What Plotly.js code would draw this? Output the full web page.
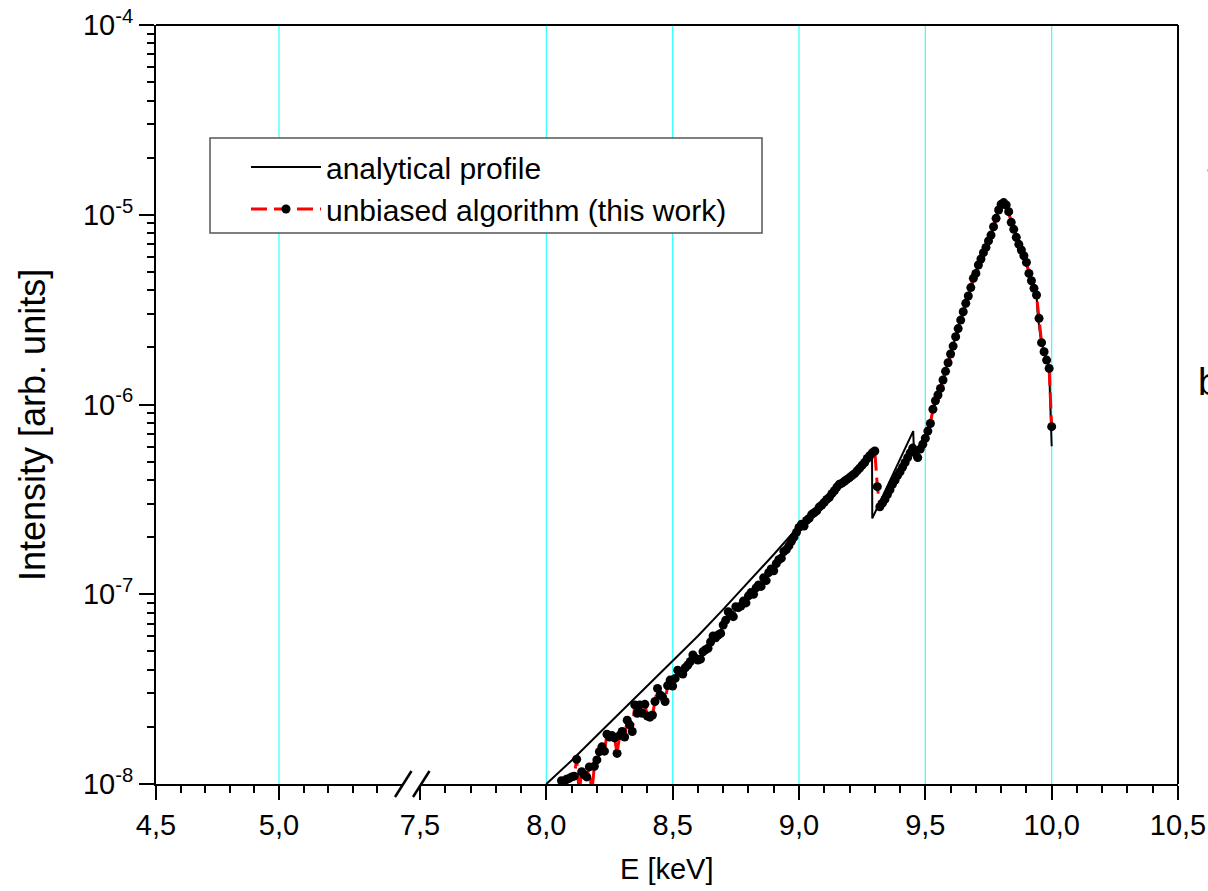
<!DOCTYPE html>
<html>
<head>
<meta charset="utf-8">
<script src="https://cdn.plot.ly/plotly-3.0.1.min.js"></script>
<style>
html,body{margin:0;padding:0;background:#ffffff;}
#chart{width:1208px;height:891px;}
</style>
</head>
<body>
<div id="chart"></div>
<script>
// ---------- data ----------
const analyticalE = [8.00, 8.10, 8.20, 8.30, 8.40, 8.50, 8.60, 8.70, 8.80, 8.90, 9.00, 9.10, 9.20, 9.289,
  9.290, 9.452, 9.456, 9.48, 9.50, 9.55, 9.60, 9.65, 9.70, 9.75, 9.78, 9.80, 9.81, 9.82, 9.85, 9.90,
  9.94, 9.945, 9.955, 9.97, 9.99, 10.00];
const analyticalI = [1.00e-8, 1.33e-8, 1.80e-8, 2.43e-8, 3.27e-8, 4.42e-8, 6.03e-8, 8.32e-8, 1.16e-7, 1.62e-7, 2.29e-7, 3.09e-7, 4.17e-7, 5.69e-7,
  2.51e-7, 7.24e-7, 5.20e-7, 5.89e-7, 6.76e-7, 1.12e-6, 1.86e-6, 3.09e-6, 4.90e-6, 7.24e-6, 9.55e-6, 1.135e-5, 1.16e-5, 1.12e-5, 8.32e-6, 5.62e-6,
  3.78e-6, 2.95e-6, 2.30e-6, 1.90e-6, 1.55e-6, 6.03e-7];

const algorithmE = [
  8.06, 8.07, 8.08, 8.09, 8.10, 8.11, 8.12, 8.13, 8.14, 8.15, 8.16, 8.17, 8.18, 8.19,
  8.20, 8.21, 8.22, 8.23, 8.24, 8.25, 8.26, 8.27, 8.28, 8.29,
  8.30, 8.31, 8.32, 8.33, 8.34, 8.35, 8.36, 8.37, 8.38, 8.39,
  8.40, 8.41, 8.42, 8.43, 8.44, 8.45, 8.46, 8.47, 8.48, 8.49,
  8.50, 8.51, 8.52, 8.53, 8.54, 8.55, 8.56, 8.57, 8.58, 8.59,
  8.60, 8.61, 8.62, 8.63, 8.64, 8.65, 8.66, 8.67, 8.68, 8.69,
  8.70, 8.71, 8.72, 8.73, 8.74, 8.75, 8.76, 8.77, 8.78, 8.79,
  8.80, 8.81, 8.82, 8.83, 8.84, 8.85, 8.86, 8.87, 8.88, 8.89,
  8.90, 8.91, 8.92, 8.93, 8.94, 8.95, 8.96, 8.97, 8.98, 8.99,
  9.00, 9.01, 9.02, 9.03, 9.04, 9.05, 9.06, 9.07, 9.08, 9.09,
  9.10, 9.11, 9.12, 9.13, 9.14, 9.15, 9.16, 9.17, 9.18, 9.19,
  9.20, 9.21, 9.22, 9.23, 9.24, 9.25, 9.26, 9.27, 9.28, 9.29,
  9.30, 9.31, 9.32, 9.33, 9.34, 9.35, 9.36, 9.37, 9.38, 9.39,
  9.40, 9.41, 9.42, 9.43, 9.44, 9.45, 9.46, 9.47, 9.48, 9.49,
  9.50, 9.51, 9.52, 9.53, 9.54, 9.55, 9.56, 9.57, 9.58, 9.59,
  9.60, 9.61, 9.62, 9.63, 9.64, 9.65, 9.66, 9.67, 9.68, 9.69,
  9.70, 9.71, 9.72, 9.73, 9.74, 9.75, 9.76, 9.77, 9.78, 9.79,
  9.80, 9.81, 9.82, 9.83, 9.84, 9.85, 9.86, 9.87, 9.88, 9.89,
  9.90, 9.91, 9.92, 9.93, 9.94, 9.95, 9.96, 9.97, 9.98, 9.99,
  10.00];
const algorithmI = [
  1.04e-8, 1.02e-8, 1.06e-8, 1.07e-8, 1.09e-8, 1.10e-8, 1.35e-8, 0.90e-8, 1.16e-8, 1.12e-8, 1.09e-8, 1.23e-8, 0.90e-8, 1.24e-8,
  1.34e-8, 1.48e-8, 1.57e-8, 1.49e-8, 1.83e-8, 1.77e-8, 1.80e-8, 1.75e-8, 1.45e-8, 1.80e-8,
  1.89e-8, 1.77e-8, 2.17e-8, 2.05e-8, 1.89e-8, 2.61e-8, 2.36e-8, 2.61e-8, 2.36e-8, 2.63e-8,
  2.28e-8, 2.25e-8, 2.31e-8, 2.72e-8, 3.19e-8, 2.95e-8, 2.88e-8, 2.72e-8, 3.30e-8, 3.53e-8,
  3.28e-8, 3.60e-8, 3.98e-8, 3.90e-8, 3.80e-8, 4.10e-8, 4.24e-8, 4.42e-8, 4.79e-8, 4.60e-8,
  4.50e-8, 4.55e-8, 4.98e-8, 5.10e-8, 5.19e-8, 5.60e-8, 6.03e-8, 5.90e-8, 6.10e-8, 6.22e-8,
  6.89e-8, 7.30e-8, 8.09e-8, 7.80e-8, 7.62e-8, 8.59e-8, 8.50e-8, 8.67e-8, 9.20e-8, 9.00e-8,
  9.80e-8, 1.02e-7, 1.00e-7, 1.08e-7, 1.12e-7, 1.10e-7, 1.22e-7, 1.18e-7, 1.30e-7, 1.36e-7,
  1.33e-7, 1.45e-7, 1.52e-7, 1.55e-7, 1.68e-7, 1.72e-7, 1.80e-7, 1.90e-7, 2.00e-7, 2.12e-7,
  2.25e-7, 2.34e-7, 2.29e-7, 2.45e-7, 2.51e-7, 2.63e-7, 2.69e-7, 2.75e-7, 2.88e-7, 2.95e-7,
  3.05e-7, 3.16e-7, 3.24e-7, 3.39e-7, 3.51e-7, 3.67e-7, 3.80e-7, 3.85e-7, 3.94e-7, 4.03e-7,
  4.12e-7, 4.22e-7, 4.32e-7, 4.47e-7, 4.62e-7, 4.79e-7, 4.95e-7, 5.19e-7, 5.37e-7, 5.56e-7,
  5.69e-7, 3.69e-7, 2.89e-7, 3.02e-7, 3.16e-7, 3.35e-7, 3.55e-7, 3.80e-7, 3.98e-7, 4.22e-7,
  4.42e-7, 4.68e-7, 4.95e-7, 5.25e-7, 5.56e-7, 5.89e-7, 5.62e-7, 5.25e-7, 5.82e-7, 6.17e-7,
  6.64e-7, 7.24e-7, 7.94e-7, 9.44e-7, 1.047e-6, 1.122e-6, 1.216e-6, 1.346e-6, 1.496e-6, 1.660e-6,
  1.845e-6, 2.032e-6, 2.275e-6, 2.512e-6, 2.786e-6, 3.083e-6, 3.412e-6, 3.733e-6, 4.130e-6, 4.624e-6,
  4.909e-6, 5.433e-6, 5.848e-6, 6.310e-6, 6.730e-6, 7.278e-6, 7.816e-6, 8.650e-6, 9.572e-6, 1.059e-5,
  1.135e-5, 1.159e-5, 1.125e-5, 1.038e-5, 9.120e-6, 8.375e-6, 7.603e-6, 6.982e-6, 6.516e-6, 6.081e-6,
  5.610e-6, 4.909e-6, 4.487e-6, 4.093e-6, 3.776e-6, 2.844e-6, 2.118e-6, 1.897e-6, 1.714e-6, 1.549e-6,
  7.64e-7];

const seriesNames = ['analytical profile', 'unbiased algorithm (this work)'];

// axis ticks / labels
const xLeftTickVals = [4.5, 5.0];
const xLeftTickText = ['4,5', '5,0'];
const xLeftMinor = [4.6, 4.7, 4.8, 4.9, 5.1, 5.2, 5.3, 5.4];
const xRightTickVals = [7.5, 8.0, 8.5, 9.0, 9.5, 10.0, 10.5];
const xRightTickText = ['7,5', '8,0', '8,5', '9,0', '9,5', '10,0', '10,5'];
const xRightMinor = [7.6, 7.7, 7.8, 7.9, 8.1, 8.2, 8.3, 8.4, 8.6, 8.7, 8.8, 8.9,
  9.1, 9.2, 9.3, 9.4, 9.6, 9.7, 9.8, 9.9, 10.1, 10.2, 10.3, 10.4];
const yTickVals = [1e-8, 1e-7, 1e-6, 1e-5, 1e-4];
const yTickText = ['10<sup>-8</sup>', '10<sup>-7</sup>', '10<sup>-6</sup>', '10<sup>-5</sup>', '10<sup>-4</sup>'];
const yMinor = [];
[1e-8, 1e-7, 1e-6, 1e-5].forEach(function (d) { for (let k = 2; k <= 9; k++) yMinor.push(k * d); });
const gridLeft = [5.0];
const gridRight = [8.0, 8.5, 9.0, 9.5, 10.0];

const xTitle = 'E [keV]';
const yTitle = 'Intensity [arb. units]';

// ---------- figure ----------
const FONT = '"Liberation Sans", Arial, Helvetica, sans-serif';
const TICKFONT = {family: FONT, size: 29, color: '#000'};

const traces = [
  {
    x: analyticalE, y: analyticalI, xaxis: 'x2', yaxis: 'y',
    type: 'scatter', mode: 'lines', name: seriesNames[0],
    line: {color: '#000000', width: 2}
  },
  {
    x: algorithmE, y: algorithmI, xaxis: 'x2', yaxis: 'y',
    type: 'scatter', mode: 'lines+markers', name: seriesNames[1],
    line: {color: '#ff0000', width: 3, dash: '16px,7px'},
    marker: {color: '#000000', size: 9, line: {width: 0}}
  }
];

// plot-area pixel geometry -> paper helpers (used only for decorations)
const PL = 156, PR = 1178, PT = 25, PB = 784;
function px(xp) { return (xp - PL) / (PR - PL); }
function py(yp) { return (PB - yp) / (PB - PT); }

const shapes = [];
gridLeft.forEach(function (g) {
  shapes.push({type: 'line', xref: 'x', yref: 'paper', x0: g, x1: g, y0: 0, y1: 1,
    line: {color: '#33ffff', width: 1.2}, layer: 'below'});
});
gridRight.forEach(function (g) {
  shapes.push({type: 'line', xref: 'x2', yref: 'paper', x0: g, x1: g, y0: 0, y1: 1,
    line: {color: '#33ffff', width: 1.2}, layer: 'below'});
});
// frame: top and right edges
shapes.push({type: 'line', xref: 'paper', yref: 'paper', x0: 0, x1: 1, y0: 1, y1: 1,
  line: {color: '#000', width: 2}, layer: 'above'});
shapes.push({type: 'line', xref: 'paper', yref: 'paper', x0: 1, x1: 1, y0: 0, y1: 1,
  line: {color: '#000', width: 2}, layer: 'above'});
// axis break marks (two slashes)
shapes.push({type: 'line', xref: 'paper', yref: 'paper', x0: px(395), x1: px(411.5), y0: py(797), y1: py(771),
  line: {color: '#000', width: 2.5}, layer: 'above'});
shapes.push({type: 'line', xref: 'paper', yref: 'paper', x0: px(413), x1: px(429.5), y0: py(797), y1: py(771),
  line: {color: '#000', width: 2.5}, layer: 'above'});
// legend frame
shapes.push({type: 'rect', xref: 'paper', yref: 'paper', x0: px(210), x1: px(762), y0: py(138), y1: py(233),
  line: {color: '#555555', width: 1.5}, fillcolor: '#ffffff', layer: 'above'});

function xAxisBase(domain, range, tv, tt, minor) {
  return {
    domain: domain, range: range, anchor: 'y', type: 'linear',
    tickmode: 'array', tickvals: tv, ticktext: tt,
    ticks: 'outside', ticklen: 14, tickwidth: 2, tickcolor: '#000',
    ticklabelstandoff: 0,
    showline: true, linewidth: 2, linecolor: '#000',
    showgrid: false, zeroline: false, mirror: false,
    tickfont: TICKFONT, fixedrange: true,
    minor: {tickmode: 'array', tickvals: minor, ticks: 'outside', ticklen: 7, tickwidth: 2, tickcolor: '#000', showgrid: false}
  };
}

const layout = {
  width: 1208, height: 891,
  margin: {l: PL, r: 1208 - PR, t: PT, b: 891 - PB, pad: 0},
  paper_bgcolor: '#ffffff', plot_bgcolor: '#ffffff',
  font: {family: FONT, size: 29, color: '#000'},
  showlegend: true,
  legend: {
    x: px(213), y: py(141), xanchor: 'left', yanchor: 'top',
    bgcolor: 'rgba(0,0,0,0)', borderwidth: 0,
    font: {family: FONT, size: 30, color: '#000'},
    tracegroupgap: 0, itemwidth: 70, indentation: 33
  },
  xaxis: xAxisBase([0, px(402)], [4.5, 5.5], xLeftTickVals, xLeftTickText, xLeftMinor),
  xaxis2: xAxisBase([px(420), 1], [7.5, 10.5], xRightTickVals, xRightTickText, xRightMinor),
  yaxis: {
    type: 'log', range: [-8, -4], anchor: 'x',
    tickmode: 'array', tickvals: yTickVals, ticktext: yTickText,
    ticks: 'outside', ticklen: 15, tickwidth: 2, tickcolor: '#000',
    showline: true, linewidth: 2, linecolor: '#000',
    showgrid: false, zeroline: false, fixedrange: true,
    tickfont: TICKFONT,
    minor: {tickmode: 'array', tickvals: yMinor, ticks: 'outside', ticklen: 7, tickwidth: 2, tickcolor: '#000', showgrid: false}
  },
  shapes: shapes,
  annotations: [
    {text: xTitle, xref: 'paper', yref: 'paper', x: 0.5, y: py(869), xanchor: 'center', yanchor: 'middle',
      showarrow: false, font: {family: FONT, size: 29, color: '#000'}},
    {text: yTitle, xref: 'paper', yref: 'paper', x: px(33), y: py(425), xanchor: 'center', yanchor: 'middle',
      textangle: -90, showarrow: false, font: {family: FONT, size: 36, color: '#000'}},
    {text: 'T', xref: 'paper', yref: 'paper', x: px(1205), y: py(160), xanchor: 'left', yanchor: 'top',
      showarrow: false, font: {family: FONT, size: 36, color: '#000'}},
    {text: 'b', xref: 'paper', yref: 'paper', x: px(1196), y: py(382), xanchor: 'left', yanchor: 'middle',
      showarrow: false, font: {family: FONT, size: 38, color: '#000'}}
  ]
};

Plotly.newPlot('chart', traces, layout, {displayModeBar: false, staticPlot: true});
</script>
</body>
</html>
